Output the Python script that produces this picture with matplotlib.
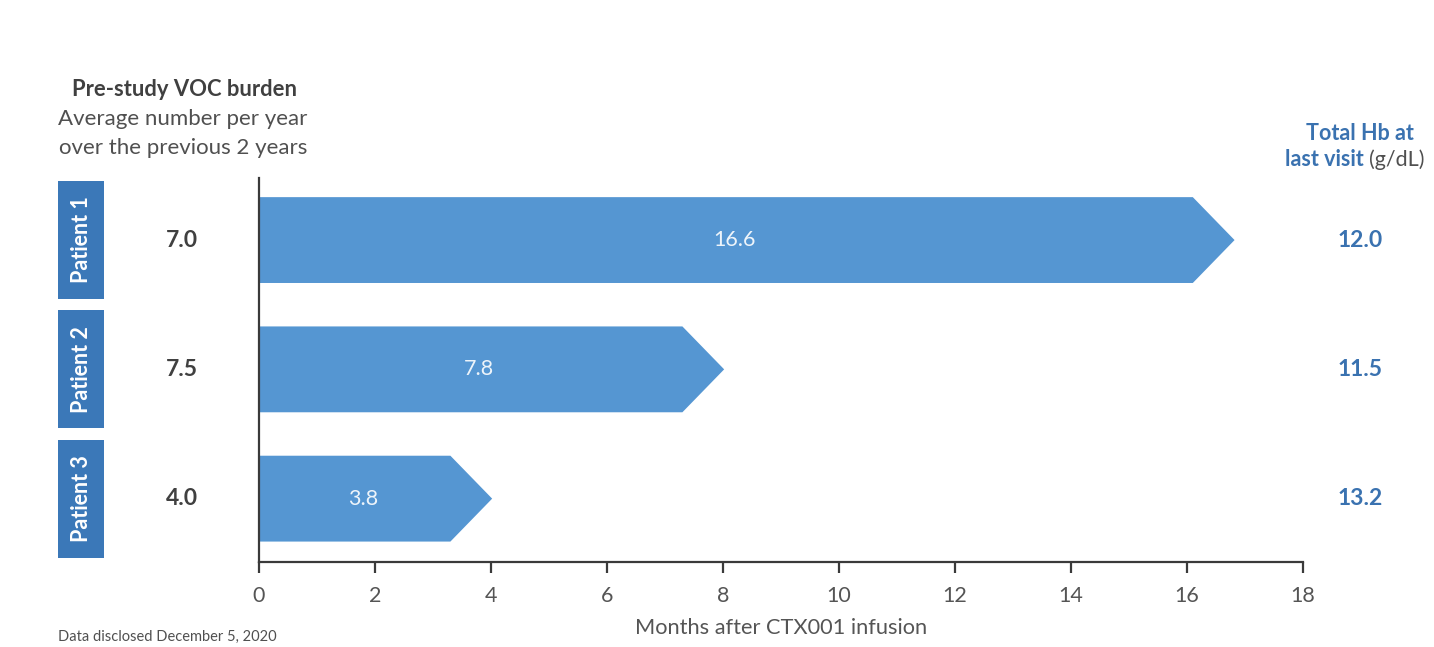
import matplotlib.pyplot as plt
import matplotlib.transforms as mtransforms
from matplotlib.patches import Polygon, Rectangle

plt.rcParams['font.family'] = ['Lato', 'DejaVu Sans']

patients = ["Patient 1", "Patient 2", "Patient 3"]
months = [16.6, 7.8, 3.8]
voc_burden = ["7.0", "7.5", "4.0"]
total_hb = ["12.0", "11.5", "13.2"]
xticks = [0, 2, 4, 6, 8, 10, 12, 14, 16, 18]

bar_col = "#5596d2"
box_col = "#3b78b8"
blue_txt = "#3a72b0"
gray_txt = "#404040"

W, H = 1434, 647
fig = plt.figure(figsize=(W / 100, H / 100), dpi=100)
ax = fig.add_axes([259 / W, 1 - 562 / H, (1303 - 259) / W, (562 - 178) / H])

bar_h = 0.664
for i, v in enumerate(months):
    body = v - 0.5
    tip = v + 0.22
    poly = Polygon([(0, i - bar_h / 2), (body, i - bar_h / 2), (tip, i),
                    (body, i + bar_h / 2), (0, i + bar_h / 2)],
                   closed=True, facecolor=bar_col, edgecolor="none")
    ax.add_patch(poly)
    ax.text(v / 2 - 0.1, i, f"{v:.1f}", color="white", fontsize=15.5,
            ha="center", va="center", alpha=0.9)

ax.set_xlim(0, 18)
ax.set_ylim(2.49, -0.48)
ax.set_xticks(xticks)
ax.set_xticklabels([str(t) for t in xticks])
ax.set_yticks([])
for s in ["top", "right"]:
    ax.spines[s].set_visible(False)
for s in ["left", "bottom"]:
    ax.spines[s].set_color("#3a3a3a")
    ax.spines[s].set_linewidth(1.6)
ax.tick_params(axis="x", direction="out", length=8, width=1.6,
               color="#3a3a3a", labelsize=15.5, labelcolor="#555555", pad=9)
ax.set_xlabel("Months after CTX001 infusion", fontsize=15.7,
              color="#555555", labelpad=9)

# left boxes and voc values, right hb values (x in figure, y in data)
trans = mtransforms.blended_transform_factory(fig.transFigure, ax.transData)
for i, p in enumerate(patients):
    r = Rectangle((58 / W, i - 0.456), 46 / W, 0.912, transform=trans,
                  facecolor=box_col, edgecolor="none", clip_on=False)
    fig.patches.append(r)
    fig.text(81 / W, i, p, transform=trans, rotation=90, color="white",
             fontsize=15.5, fontweight="bold", ha="center", va="center")
    fig.text(182 / W, i, voc_burden[i], transform=trans, color=gray_txt,
             fontsize=16.5, fontweight="bold", ha="center", va="center")
    fig.text(1360 / W, i, total_hb[i], transform=trans, color=blue_txt,
             fontsize=16.5, fontweight="bold", ha="center", va="center")

# headers
fig.text(184 / W, 1 - 89 / H, "Pre-study VOC burden", color=gray_txt,
         fontsize=15.8, fontweight="bold", ha="center", va="center")
fig.text(183 / W, 1 - 119 / H, "Average number per year", color="#505050",
         fontsize=16, ha="center", va="center")
fig.text(183 / W, 1 - 148 / H, "over the previous 2 years", color="#505050",
         fontsize=16, ha="center", va="center")

fig.text(1360 / W, 1 - 133 / H, "Total Hb at", color=blue_txt,
         fontsize=15.5, fontweight="bold", ha="center", va="center")
fig.text(1364 / W, 1 - 160 / H, "last visit", color=blue_txt,
         fontsize=15.5, fontweight="bold", ha="right", va="center")
fig.text(1369 / W, 1 - 160 / H, "(g/dL)", color="#505050",
         fontsize=15.5, ha="left", va="center")

fig.text(58 / W, 1 - 637 / H, "Data disclosed December 5, 2020",
         color="#505050", fontsize=10.5, ha="left", va="center")

fig.savefig("out.png", dpi=100)
